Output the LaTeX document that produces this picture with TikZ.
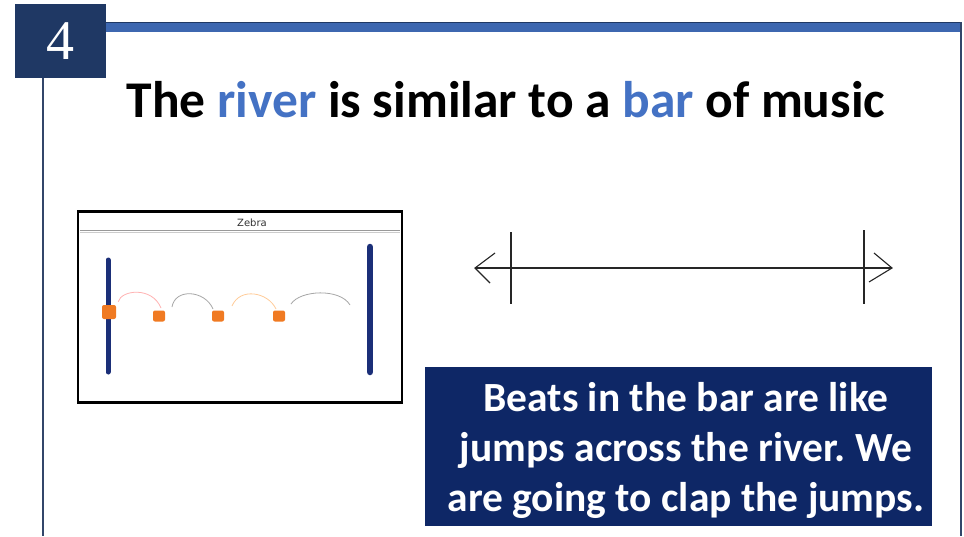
\documentclass[tikz,border=0pt]{standalone}
\usepackage{fontspec}
\setmainfont{Carlito}
\newfontfamily\numfont{Liberation Serif}
\newfontfamily\handfont{DejaVu Sans}
\definecolor{navy}{HTML}{1F3864}
\definecolor{boxblue}{HTML}{0E2766}
\definecolor{accent}{HTML}{4472C4}
\definecolor{barnavy}{HTML}{1B2F78}
\definecolor{beatorange}{HTML}{F07A22}
\frenchspacing
\begin{document}
\begin{tikzpicture}[x=1pt,y=-1pt,
  frameline/.style={draw=navy!80!gray,line width=1.6pt},
  pen/.style={draw=black!85,line width=1.1pt},
  beat/.style={fill=beatorange,rounded corners=2pt,inner sep=0pt},
  hop/.style={line width=0.8pt,draw=gray!70}]
\useasboundingbox (0,0) rectangle (964,536);
\fill[white] (0,0) rectangle (964,536);

% slide frame
\fill[accent!90!black] (106,22) rectangle (961,32);
\draw[navy,line width=1.5pt] (106,22.5) -- (961,22.5);
\draw[frameline] (43,78) -- (43,536);
\draw[frameline] (961,22) -- (961,536);
\node[fill=navy,minimum width=91pt,minimum height=74pt,inner sep=0pt,text=white,font=\numfont\fontsize{56}{60}\selectfont] (num) at (60.5,41) {4};

% title
\node[font=\bfseries\fontsize{51.5}{56}\selectfont] (title) at (506,100)
  {The \textcolor{accent}{river} is similar to a \textcolor{accent}{bar} of music};

% river picture
\node[draw=black,line width=2.6pt,minimum width=324pt,minimum height=191pt,inner sep=0pt] (pic) at (240,307) {};
\draw[gray!80,line width=0.7pt] (80,230) -- (400,230);
\draw[gray!40,line width=0.5pt] (80,232.5) -- (400,232.5);
\node[font=\handfont\fontsize{10}{11}\selectfont,text=black!80] (zebra) at (252,223) {Zebra};
\draw[barnavy,line width=5pt,line cap=round] (108,260) -- (108,372);
\draw[barnavy,line width=6.5pt,line cap=round] (370,247) -- (370,372);
\node[beat,minimum size=14pt] (b1) at (109,312) {};
\node[beat,minimum width=12pt,minimum height=11pt] (b2) at (159,316) {};
\node[beat,minimum width=12pt,minimum height=11pt] (b3) at (218,316) {};
\node[beat,minimum width=12pt,minimum height=11pt] (b4) at (279,316) {};
\coordinate (end) at (350,305);
\draw[hop,draw=red!30] (b1.north east) ++(2,-3) .. controls (121,290) and (152,286) .. (161,308);
\draw[hop] (172,307) .. controls (175,288) and (205,290) .. (213,309);
\draw[hop,draw=orange!40] (232,306) .. controls (240,287) and (268,292) .. (276,309);
\draw[hop] (291,304) .. controls (300,290) and (340,288) .. (end);

% bar of music
\coordinate (la) at (475,268);
\coordinate (ra) at (892,268);
\draw[pen] (la) -- (ra);
\draw[pen] (495,253) -- (la) -- (490,283);
\draw[pen] (874,253) -- (ra) -- (869,282);
\draw[pen] (511,232) -- (511,304);
\draw[pen] (864,230) -- (864,304);

% caption
\node[fill=boxblue,minimum width=507pt,minimum height=159pt,inner sep=0pt] (caption) at (678.5,446.5) {};
\node[text=white,align=center,font=\bfseries\fontsize{41.5}{50}\selectfont] (captext) at (686,450)
  {Beats in the bar are like\\jumps across the river. We\\are going to clap the jumps.};
\end{tikzpicture}
\end{document}
